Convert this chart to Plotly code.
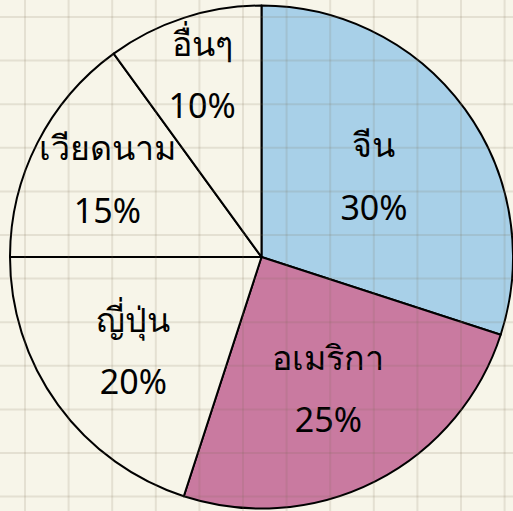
import plotly.graph_objects as go

labels = ["จีน", "อเมริกา", "ญี่ปุ่น", "เวียดนาม", "อื่นๆ"]
values = [30, 25, 20, 15, 10]
colors = ["#a8d0e8", "#c97aa0", "#f7f5e9", "#f7f5e9", "#f7f5e9"]

W, H = 513, 511
BG = "#f7f5e9"

fig = go.Figure()
fig.add_trace(go.Pie(
    labels=labels,
    values=values,
    sort=False,
    direction="clockwise",
    rotation=0,
    marker=dict(colors=colors, line=dict(color="black", width=2)),
    texttemplate="<span style='font-size:34px'>%{label}</span><br><br>"
                 "<span style='font-size:34px'>%{percent:.0%}</span>",
    textposition="inside",
    insidetextorientation="horizontal",
    textfont=dict(family="Noto Sans, sans-serif", size=24, color="black"),
    domain=dict(x=[0.0195, 1.0], y=[0.004, 0.99]),
    showlegend=False,
    hoverinfo="label+percent",
))

# background grid (decoration)
shapes = []
step = 43.6
x = 25.0
while x < W:
    shapes.append(dict(type="line", xref="paper", yref="paper",
                       x0=x / W, x1=x / W, y0=0, y1=1, layer="above",
                       line=dict(color="rgba(120,110,80,0.15)", width=2)))
    x += step
y = 17.0
while y < H:
    shapes.append(dict(type="line", xref="paper", yref="paper",
                       x0=0, x1=1, y0=1 - y / H, y1=1 - y / H, layer="above",
                       line=dict(color="rgba(120,110,80,0.15)", width=2)))
    y += step

fig.update_layout(
    width=W, height=H,
    margin=dict(l=0, r=0, t=0, b=0),
    paper_bgcolor=BG, plot_bgcolor=BG,
    shapes=shapes,
    uniformtext=dict(minsize=24, mode="show"),
)

fig.write_html(
    "out.html",
    config={"displayModeBar": False},
    post_script="document.body.style.margin='0';document.body.style.overflow='hidden';",
)
